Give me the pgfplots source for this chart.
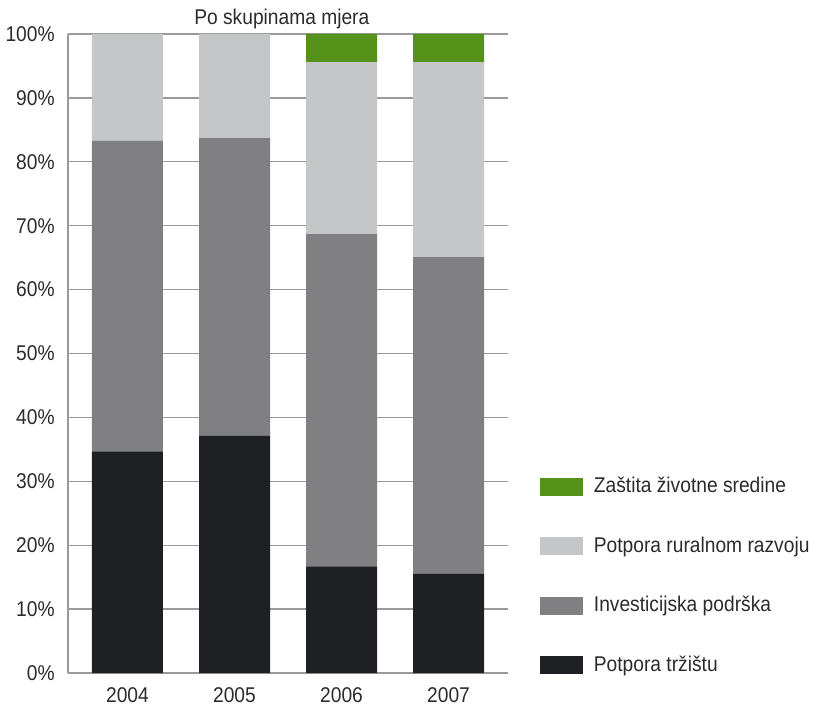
\documentclass[border=0pt]{standalone}
\usepackage{fontspec}
\setmainfont[FakeStretch=0.9]{Liberation Sans}
\usepackage{pgfplots}
\pgfplotsset{compat=1.18}
\definecolor{cgreen}{HTML}{559219}
\definecolor{clight}{HTML}{C5C6C8}
\definecolor{cdark}{HTML}{808083}
\definecolor{cblack}{HTML}{1F2023}
\definecolor{cgrid}{HTML}{9A9A9A}
\definecolor{ctext}{HTML}{2B2B2B}
\begin{document}
\fontsize{16pt}{18pt}\selectfont
\begin{tikzpicture}
\path[use as bounding box] (0,0) rectangle (609.75pt,530.25pt);
\begin{axis}[
  at={(51pt,25.5pt)}, anchor=south west,
  scale only axis, width=330pt, height=479.25pt,
  ybar stacked, bar width=53.25pt,
  xmin=-0.556, xmax=3.556, ymin=0, ymax=100,
  xtick={0,1,2,3}, xticklabels={2004,2005,2006,2007},
  ytick={0,10,...,100},
  yticklabels={0\%,10\%,20\%,30\%,40\%,50\%,60\%,70\%,80\%,90\%,100\%},
  major tick length=0pt,
  axis x line*=bottom, axis y line*=left,
  axis line style={draw=cgrid, line width=1pt, -},
  ymajorgrids, grid style={draw=cgrid, line width=1pt},
  tick label style={font=\fontsize{16pt}{18pt}\selectfont, text=ctext},
  yticklabel style={xshift=-4.5pt},
  xticklabel style={yshift=-5.5pt},
  title={Po skupinama mjera},
  title style={at={(0.486,1)}, anchor=base, yshift=0.8pt, font=\fontsize{16pt}{18pt}\selectfont, text=ctext},
  legend cell align=left,
  reverse legend,
  legend style={at={(1.0727,0.311)}, anchor=north west, draw=none, fill=none,
     inner sep=0pt, row sep=26.6pt, font=\fontsize{16pt}{18pt}\selectfont, text=ctext,
     /tikz/every odd column/.append style={column sep=6pt}},
  legend image code/.code={\fill[#1] (0pt,-7pt) rectangle (32.25pt,6.5pt);},
]
\addplot[fill=cblack, draw=none] coordinates {(0,34.7) (1,37.1) (2,16.7) (3,15.5)};
\addplot[fill=cdark, draw=none] coordinates {(0,48.6) (1,46.6) (2,52.0) (3,49.6)};
\addplot[fill=clight, draw=none] coordinates {(0,16.7) (1,16.3) (2,26.9) (3,30.5)};
\addplot[fill=cgreen, draw=none] coordinates {(0,0) (1,0) (2,4.4) (3,4.4)};
\legend{Potpora tržištu,Investicijska podrška,Potpora ruralnom razvoju,Zaštita životne sredine}
\end{axis}
\end{tikzpicture}
\end{document}
